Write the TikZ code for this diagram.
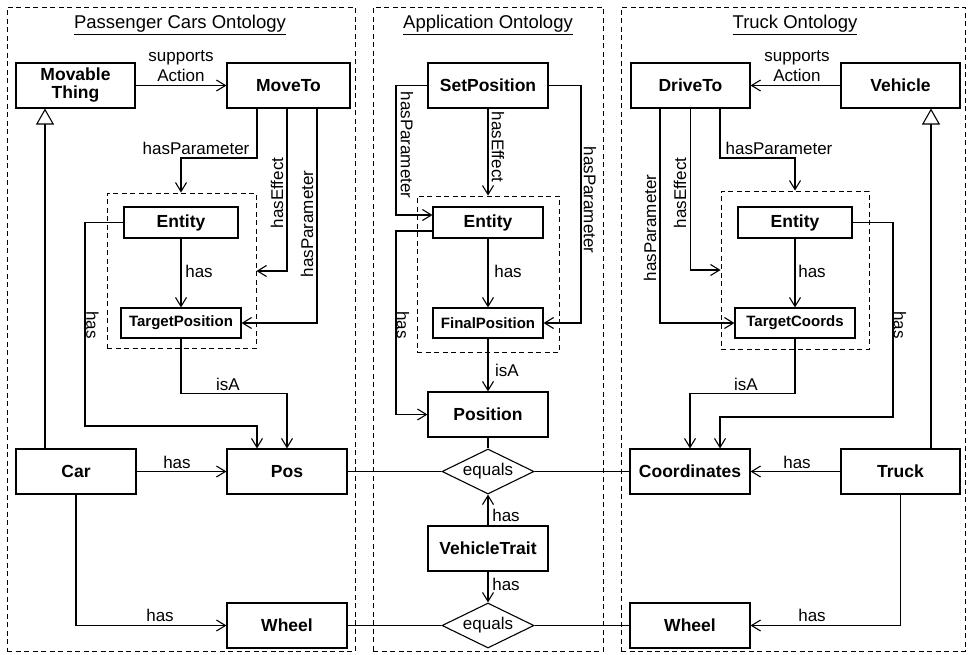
\documentclass[tikz,border=0pt]{standalone}
\usepackage{fontspec}
\setmainfont{Liberation Sans}
\usetikzlibrary{arrows.meta,shapes.geometric}
\begin{document}
\begin{tikzpicture}[x=1pt,y=-1pt,
  every node/.style={font=\fontsize{17}{20}\selectfont},
  cls/.style={draw, line width=1.1pt, font=\fontsize{17.5}{20}\selectfont\bfseries, align=center, inner sep=0pt},
  small/.style={font=\fontsize{15}{18}\selectfont\bfseries},
  grp/.style={draw, dash pattern=on 5pt off 3.5pt, line width=0.9pt, inner sep=0pt},
  ttl/.style={font=\fontsize{18.5}{22}\selectfont},
  lbl/.style={inner sep=0pt, align=center},
  eq/.style={draw, diamond, aspect=2, inner sep=0pt, line width=1.1pt, minimum width=92pt, minimum height=45pt},
  arr/.style={line width=1.1pt, -{Straight Barb[length=9pt,width=11pt]}},
  inh/.style={line width=1.1pt, -{Triangle[open,length=16pt,width=18pt,fill=white]}},
  ln/.style={line width=1.1pt},
]
\useasboundingbox (0,0) rectangle (968,654);

% ---------- ontology frames ----------
\node[grp, minimum width=348pt, minimum height=644pt] (grpL) at (181,329) {};
\node[grp, minimum width=230pt, minimum height=644pt] (grpM) at (488,329) {};
\node[grp, minimum width=344pt, minimum height=644pt] (grpR) at (793,329) {};
\node[ttl] (ttlL) at (180,25) {\underline{Passenger Cars Ontology}};
\node[ttl] (ttlM) at (488,25) {\underline{Application Ontology}};
\node[ttl] (ttlR) at (795,25) {\underline{Truck Ontology}};

% ---------- passenger cars ----------
\node[cls, minimum width=119pt, minimum height=45pt] (movable) at (75.5,85.5) {Movable\\[-2pt]Thing};
\node[cls, minimum width=123pt, minimum height=45pt] (moveto) at (288.5,85.5) {MoveTo};
\node[grp, minimum width=149pt, minimum height=155pt] (innerL) at (181.5,270.5) {};
\node[cls, minimum width=114pt, minimum height=31pt] (entL) at (181,222.5) {Entity};
\node[cls, small, minimum width=120pt, minimum height=30pt] (tposL) at (181,323) {TargetPosition};
\node[cls, minimum width=120pt, minimum height=45pt] (car) at (76,471.5) {Car};
\node[cls, minimum width=120pt, minimum height=45pt] (posL) at (287,471.5) {Pos};
\node[cls, minimum width=120pt, minimum height=45pt] (wheelL) at (287,625.5) {Wheel};

% ---------- application ----------
\node[cls, minimum width=120pt, minimum height=45pt] (setpos) at (488,85.5) {SetPosition};
\node[grp, minimum width=142pt, minimum height=156pt] (innerM) at (488,274) {};
\node[cls, minimum width=110pt, minimum height=31pt] (entM) at (488,222.5) {Entity};
\node[cls, small, minimum width=110pt, minimum height=30pt] (finpos) at (488,323) {FinalPosition};
\node[cls, minimum width=120pt, minimum height=45pt] (position) at (488,414.5) {Position};
\node[eq] (eq1) at (488,471.5) {equals};
\node[cls, minimum width=120pt, minimum height=45pt] (vtrait) at (488,548.5) {VehicleTrait};
\node[eq] (eq2) at (488,625.5) {equals};

% ---------- truck ----------
\node[cls, minimum width=119pt, minimum height=45pt] (driveto) at (690.5,85.5) {DriveTo};
\node[cls, minimum width=119pt, minimum height=45pt] (vehicle) at (900.5,85.5) {Vehicle};
\node[grp, minimum width=148pt, minimum height=158pt] (innerR) at (795,270) {};
\node[cls, minimum width=114pt, minimum height=31pt] (entR) at (795,222.5) {Entity};
\node[cls, small, minimum width=120pt, minimum height=30pt] (tcoords) at (795,323) {TargetCoords};
\node[cls, minimum width=120pt, minimum height=45pt] (coords) at (690,471.5) {Coordinates};
\node[cls, minimum width=119pt, minimum height=45pt] (truck) at (900.5,471.5) {Truck};
\node[cls, minimum width=120pt, minimum height=45pt] (wheelR) at (690,625.5) {Wheel};

% ---------- passenger cars relations ----------
\draw[arr] (movable) -- (moveto);
\node[lbl] (lSupL) at (181,66) {supports\\Action};
\draw[arr] (257,0 |- moveto.south) |- (181,158) -- (181,0 |- innerL.north);
\node[lbl] (lHpL) at (196,148) {hasParameter};
\draw[arr] (287,0 |- moveto.south) |- (innerL.east |- 0,271);
\node[lbl, rotate=90] (lHeL) at (277,193) {hasEffect};
\draw[arr] (317,0 |- moveto.south) |- (tposL.east);
\node[lbl, rotate=90] (lHp2L) at (307,224) {hasParameter};
\draw[arr] (entL) -- (tposL);
\node[lbl] (lHasL1) at (199,271) {has};
\draw[arr] (entL.west) -| (85,426) -| (257,0 |- posL.north);
\node[lbl, rotate=-90] (lHasL2) at (92.5,325) {has};
\draw[arr] (tposL.south) -- ++(0,55) -| (posL.north);
\node[lbl] (lIsaL) at (228,384) {isA};
\draw[inh] (45,0 |- car.north) -- (45,0 |- movable.south);
\draw[arr] (car) -- (posL);
\node[lbl] (lHasL3) at (177,462) {has};
\draw[arr] (car.south) |- (wheelL.west);
\node[lbl] (lHasL4) at (160,615) {has};

% ---------- application relations ----------
\draw[arr] (setpos.west) -| (396,215) -- (entM.west |- 0,215);
\node[lbl, rotate=-90] (lHpM1) at (407,145) {hasParameter};
\draw[arr] (setpos.south) -- (innerM.north);
\node[lbl, rotate=-90] (lHeM) at (498,147) {hasEffect};
\draw[arr] (setpos.east) -| (581,323) -- (finpos.east);
\node[lbl, rotate=-90] (lHpM2) at (590,200) {hasParameter};
\draw[arr] (entM) -- (finpos);
\node[lbl] (lHasM1) at (508,271) {has};
\draw[arr] (entM.west |- 0,231) -| (396,414.5) -- (position.west);
\node[lbl, rotate=-90] (lHasM2) at (403,325) {has};
\draw[arr] (finpos) -- (position);
\node[lbl] (lIsaM) at (507,370) {isA};
\draw[ln] (position) -- (eq1);
\draw[ln] (posL) -- (eq1) -- (coords);
\draw[arr] (vtrait) -- (eq1);
\node[lbl] (lHasM3) at (506,515) {has};
\draw[arr] (vtrait) -- (eq2);
\node[lbl] (lHasM4) at (506,584) {has};
\draw[ln] (wheelL) -- (eq2) -- (wheelR);

% ---------- truck relations ----------
\draw[arr] (vehicle) -- (driveto);
\node[lbl] (lSupR) at (797,66) {supports\\Action};
\draw[arr] (720,0 |- driveto.south) |- (795,158) -- (795,0 |- innerR.north);
\node[lbl] (lHpR) at (779,148) {hasParameter};
\draw[arr] (driveto.south) |- (innerR.west |- 0,270);
\node[lbl, rotate=90] (lHeR) at (680,193) {hasEffect};
\draw[arr] (660,0 |- driveto.south) |- (tcoords.west);
\node[lbl, rotate=90] (lHp2R) at (650,228) {hasParameter};
\draw[arr] (entR) -- (tcoords);
\node[lbl] (lHasR1) at (812,271) {has};
\draw[arr] (entR.east) -| (893,417) -| (720,0 |- coords.north);
\node[lbl, rotate=-90] (lHasR2) at (900,325) {has};
\draw[arr] (tcoords.south) -- ++(0,55) -| (coords.north);
\node[lbl] (lIsaR) at (746,384) {isA};
\draw[inh] (931,0 |- truck.north) -- (931,0 |- vehicle.south);
\draw[arr] (truck) -- (coords);
\node[lbl] (lHasR3) at (797,462) {has};
\draw[arr] (truck.south) |- (wheelR.east);
\node[lbl] (lHasR4) at (812,615) {has};
\end{tikzpicture}
\end{document}
